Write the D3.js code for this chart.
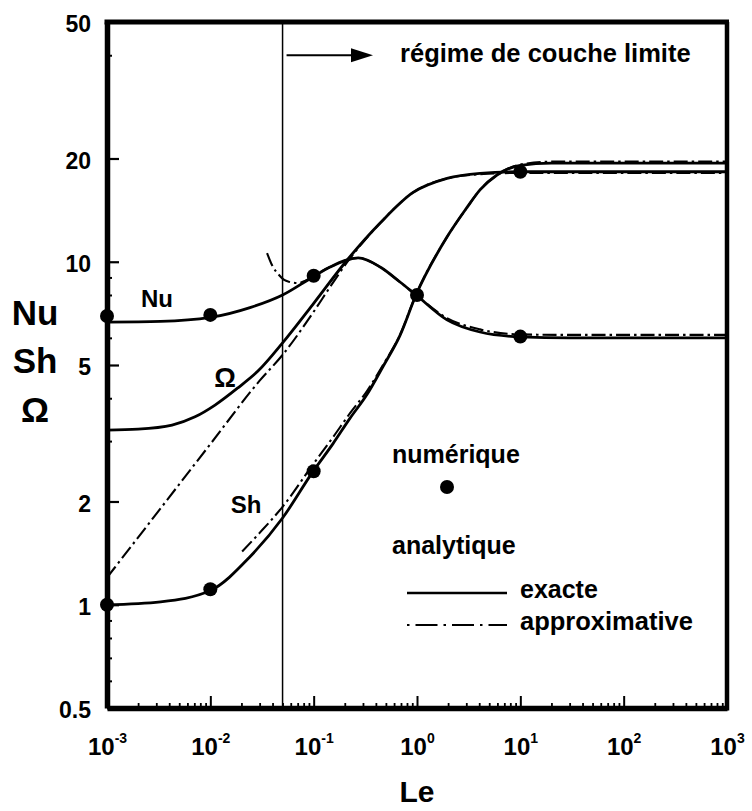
<!DOCTYPE html>
<html><head><meta charset="utf-8">
<script src="https://cdn.jsdelivr.net/npm/d3@7"></script>
<style>
body{margin:0;background:#fff;}
svg{display:block;font-family:"Liberation Sans",Arial,Helvetica,sans-serif;font-weight:bold;}
</style></head><body>
<svg id="chart" width="752" height="811"></svg>
<script>
// ---------- data ----------
const xTickValues = [1e-3, 1e-2, 1e-1, 1e0, 1e1, 1e2, 1e3];
const xTickExponents = ["-3", "-2", "-1", "0", "1", "2", "3"];
const yTickValues = [0.5, 1, 2, 5, 10, 20, 50];
const yTickLabels = ["0.5", "1", "2", "5", "10", "20", "50"];
const yMinorTicks = [0.6, 0.7, 0.8, 0.9, 3, 4, 6, 7, 8, 9, 40];

// Nu
const nuExactLe  = [0.001, 0.0033, 0.01, 0.0242, 0.05, 0.0964, 0.144, 0.27, 0.44, 0.684, 0.98, 1.95, 4.07, 9.9, 30, 1000];
const nuExactVal = [6.67, 6.7, 6.88, 7.35, 8.0, 9.0, 9.65, 10.26, 9.65, 8.73, 8.0, 6.77, 6.24, 6.04, 6.0, 6.0];
const nuApproxLe  = [0.0354, 0.0395, 0.0462, 0.0518, 0.059, 0.0705, 0.0824, 0.0964, 0.144, 0.27, 0.44, 0.684, 0.98, 1.95, 4.07, 9.9, 30, 1000];
const nuApproxVal = [10.6, 9.78, 9.15, 8.85, 8.73, 8.67, 8.79, 9.03, 9.65, 10.26, 9.65, 8.73, 8.0, 6.85, 6.35, 6.14, 6.12, 6.12];
// Omega
const omExactLe  = [0.001, 0.002, 0.00426, 0.00711, 0.0111, 0.0185, 0.0289, 0.05, 0.098, 0.21, 0.44, 0.91, 1.95, 4.07, 10, 1000];
const omExactVal = [3.23, 3.25, 3.34, 3.53, 3.82, 4.29, 4.8, 5.8, 7.5, 10.1, 12.97, 15.9, 17.5, 18.1, 18.3, 18.3];
const omApproxLe  = [0.001, 0.003, 0.01, 0.03, 0.05, 0.1, 0.144, 0.21, 0.3, 0.44, 0.91, 1.95, 4.07, 10, 1000];
const omApproxVal = [1.2, 1.84, 2.94, 4.5, 5.35, 7.15, 8.44, 9.95, 11.4, 12.97, 15.9, 17.5, 18.0, 18.15, 18.15];
// Sh
const shExactLe  = [0.001, 0.0033, 0.01, 0.0242, 0.05, 0.098, 0.154, 0.225, 0.328, 0.469, 0.685, 0.978, 1.95, 3.05, 4.07, 5.94, 10, 20, 1000];
const shExactVal = [1.0, 1.02, 1.1, 1.38, 1.79, 2.44, 2.95, 3.5, 4.1, 4.95, 6.1, 8.0, 11.8, 14.4, 16.2, 17.9, 19.1, 19.4, 19.4];
const shApproxLe  = [0.0203, 0.03, 0.05, 0.098, 0.154, 0.225, 0.328, 0.469, 0.685, 0.978, 1.95, 3.05, 4.07, 5.94, 10, 20, 1000];
const shApproxVal = [1.43, 1.62, 1.93, 2.56, 3.08, 3.62, 4.2, 5.0, 6.12, 8.02, 11.8, 14.4, 16.2, 17.9, 19.2, 19.58, 19.58];
// numerical points
const numLe  = [0.001, 0.01, 0.1, 1, 10, 0.001, 0.01, 0.1, 10];
const numVal = [6.95, 7.0, 9.1, 8.0, 6.05, 1.0, 1.11, 2.45, 18.3];

const boundaryLe = 0.05;

// ---------- layout ----------
const svg = d3.select("#chart");
const pL = 107, pR = 727, pT = 22, pB = 708;
const x = d3.scaleLog().domain([1e-3, 1e3]).range([pL, pR]);
const y = d3.scaleLog().domain([0.5, 50]).range([pB, pT]);

const zip = (a, b) => a.map((v, i) => [v, b[i]]);
const line = d3.line().x(d => x(d[0])).y(d => y(d[1])).curve(d3.curveMonotoneX);

// curves
const curves = [
  {pts: zip(nuExactLe, nuExactVal), dash: null},
  {pts: zip(omExactLe, omExactVal), dash: null},
  {pts: zip(shExactLe, shExactVal), dash: null},
  {pts: zip(nuApproxLe, nuApproxVal), dash: "14,4,2.5,4"},
  {pts: zip(omApproxLe, omApproxVal), dash: "14,4,2.5,4"},
  {pts: zip(shApproxLe, shApproxVal), dash: "14,4,2.5,4"}
];
svg.append("g").selectAll("path").data(curves).join("path")
  .attr("d", d => line(d.pts))
  .attr("fill", "none").attr("stroke", "#000")
  .attr("stroke-width", d => d.dash ? 2.1 : 2.8)
  .attr("stroke-dasharray", d => d.dash);

// boundary line
svg.append("line")
  .attr("x1", x(boundaryLe)).attr("x2", x(boundaryLe))
  .attr("y1", pT).attr("y2", pB)
  .attr("stroke", "#000").attr("stroke-width", 1.5);

// points
svg.append("g").selectAll("circle").data(zip(numLe, numVal)).join("circle")
  .attr("cx", d => x(d[0])).attr("cy", d => y(d[1])).attr("r", 7).attr("fill", "#000");

// ---------- axes ----------
const gy = svg.append("g").attr("transform", `translate(${pL},0)`)
  .call(d3.axisLeft(y).tickValues(yTickValues).tickSize(-12).tickSizeOuter(0).tickPadding(16)
    .tickFormat((d, i) => yTickLabels[i]));
gy.select(".domain").attr("stroke-width", 5.5);
gy.selectAll(".tick line").attr("stroke-width", 2.2);
gy.selectAll(".tick text").attr("font-size", 23).attr("font-family", "Liberation Sans, Arial, sans-serif")
  .attr("font-weight", "bold").attr("dy", "0.42em").attr("fill", "#000");

const gym = svg.append("g").attr("transform", `translate(${pL},0)`)
  .call(d3.axisLeft(y).tickValues(yMinorTicks).tickSize(-5).tickSizeOuter(0).tickFormat(""));
gym.select(".domain").remove();
gym.selectAll(".tick line").attr("stroke-width", 2);

const gx = svg.append("g").attr("transform", `translate(0,${pB})`)
  .call(d3.axisBottom(x).tickValues(xTickValues).tickSize(-12).tickSizeOuter(0).tickPadding(0).tickFormat(""));
gx.select(".domain").attr("stroke-width", 5.5);
gx.selectAll(".tick line").attr("stroke-width", 2);
gx.selectAll(".tick text").remove();
gx.selectAll(".tick").append("text")
  .attr("y", 47).attr("text-anchor", "middle").attr("fill", "#000")
  .attr("font-size", 24).attr("font-family", "Liberation Sans, Arial, sans-serif").attr("font-weight", "bold")
  .each(function(d, i) {
    const t = d3.select(this);
    t.append("tspan").text("10");
    t.append("tspan").attr("font-size", 14).attr("dy", -12).text(xTickExponents[i]);
  });

const xMinor = x.ticks().filter(v => !xTickValues.some(t => Math.abs(t - v) / t < 1e-9));
const gxm = svg.append("g").attr("transform", `translate(0,${pB})`)
  .call(d3.axisBottom(x).tickValues(xMinor).tickSize(-5).tickSizeOuter(0).tickFormat(""));
gxm.select(".domain").remove();
gxm.selectAll(".tick line").attr("stroke-width", 1.8);

// top & right frame
svg.append("line").attr("x1", pL - 2.5).attr("x2", pR + 2).attr("y1", pT).attr("y2", pT)
  .attr("stroke", "#000").attr("stroke-width", 5);
svg.append("line").attr("x1", pR).attr("x2", pR).attr("y1", pT).attr("y2", pB + 2.5)
  .attr("stroke", "#000").attr("stroke-width", 4.5);

// ---------- titles ----------
svg.append("text").attr("x", x(1)).attr("y", 802).attr("text-anchor", "middle")
  .attr("font-size", 30).text("Le");
const yTitles = ["Nu", "Sh", "Ω"];
const yTitleBase = [325, 373, 422];
svg.append("g").selectAll("text").data(yTitles).join("text")
  .attr("x", 35).attr("y", (d, i) => yTitleBase[i]).attr("text-anchor", "middle")
  .attr("font-size", 35).text(d => d);

// curve labels
const curveLabels = [
  {t: "Nu", le: 0.00305, v: 7.38, fs: 24},
  {t: "Ω", le: 0.01387, v: 4.32, fs: 27},
  {t: "Sh", le: 0.0222, v: 1.85, fs: 24}
];
svg.append("g").selectAll("text").data(curveLabels).join("text")
  .attr("x", d => x(d.le)).attr("y", d => y(d.v)).attr("text-anchor", "middle")
  .attr("font-size", d => d.fs).text(d => d.t);

// boundary-layer annotation
const arrowY = y(40);
const ax1 = x(boundaryLe) + 4, ax2 = x(0.375);
svg.append("line").attr("x1", ax1).attr("x2", ax2 - 18).attr("y1", arrowY).attr("y2", arrowY)
  .attr("stroke", "#000").attr("stroke-width", 1.8);
svg.append("path").attr("d", `M${ax2},${arrowY} L${ax2 - 22},${arrowY - 7} L${ax2 - 22},${arrowY + 7} Z`).attr("fill", "#000");
svg.append("text").attr("x", x(0.686)).attr("y", arrowY + 7).attr("font-size", 25.5)
  .text("régime de couche limite");

// ---------- legend ----------
const lg = svg.append("g");
lg.append("text").attr("x", 392).attr("y", 463).attr("font-size", 25).text("numérique");
lg.append("circle").attr("cx", 447).attr("cy", 487).attr("r", 7).attr("fill", "#000");
lg.append("text").attr("x", 392).attr("y", 554).attr("font-size", 25).text("analytique");
lg.append("line").attr("x1", 407).attr("x2", 507).attr("y1", 593).attr("y2", 593)
  .attr("stroke", "#000").attr("stroke-width", 2.6);
lg.append("text").attr("x", 520).attr("y", 598).attr("font-size", 25).text("exacte");
lg.append("line").attr("x1", 407).attr("x2", 507).attr("y1", 625).attr("y2", 625)
  .attr("stroke", "#000").attr("stroke-width", 2).attr("stroke-dasharray", "2.5,6,22,6");
lg.append("text").attr("x", 520).attr("y", 630).attr("font-size", 25.5).text("approximative");
</script>
</body></html>
